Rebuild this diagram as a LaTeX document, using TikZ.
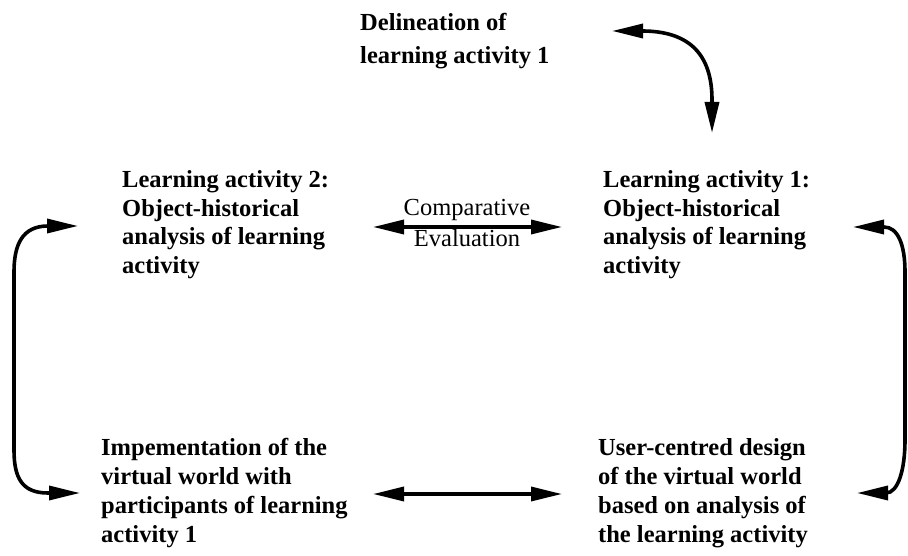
\documentclass[tikz,border=0pt]{standalone}
\usepackage{fontspec}
\setmainfont{Liberation Serif}
\usepackage{tikz}
\usetikzlibrary{arrows.meta, positioning}

\begin{document}
\begin{tikzpicture}[x=1pt,y=-1pt,
    lbl/.style={anchor=base west,inner sep=0pt,align=left,
        font=\fontsize{24.5}{29}\selectfont\bfseries},
    note/.style={anchor=base,inner sep=0pt,font=\fontsize{24.5}{30}\selectfont},
    link/.style={line width=3.6pt,{Triangle[length=31pt,width=14pt]}-{Triangle[length=31pt,width=14pt]}}]
                \useasboundingbox (0,0) rectangle (908,556);

                % Activity boxes (anchored at the baseline of their last line)
                \node[lbl] (del) at (360,64) {Delineation of\\[4pt]learning activity 1};
                \node[lbl] (la2) at (122,274) {Learning activity 2:\\Object-historical\\analysis of learning\\activity};
                \node[lbl] (la1) at (603,274) {Learning activity 1:\\Object-historical\\analysis of learning\\activity};
                \node[lbl] (imp) at (101,542) {Impementation of the\\virtual world with\\participants of learning\\activity 1};
                \node[lbl] (ucd) at (598,542) {User-centred design\\of the virtual world\\based on analysis of\\the learning activity};

                % Arrow ends
                \coordinate (delR) at (612,31);
                \coordinate (la1T) at (712,133);
                \coordinate (la2R) at (373,227);
                \coordinate (la1L) at (562,227);
                \coordinate (impR) at (373,494);
                \coordinate (ucdL) at (562,494);
                \coordinate (la2W) at (78,226);
                \coordinate (impW) at (80,493);
                \coordinate (la1E) at (853,227);
                \coordinate (ucdE) at (857,493);

                % Connectors
                \draw[link] (delR) -- (642,31) .. controls (690,31) and (712,55) .. (712,100) -- (la1T);
                \draw[link] (la2R) -- (la1L);
                \node[note] (cmp) at (467,216) {Comparative};
                \node[note] (evl) at (467,247) {Evaluation};
                \draw[link] (impR) -- (ucdL);
                \draw[link] (la2W) -- (48,226) .. controls (22,226) and (14,245) .. (14,272) -- (14,450) .. controls (14,478) and (22,493) .. (48,493) -- (impW);
                \draw[link] (la1E) -- (884,227) .. controls (898,227) and (905,245) .. (905,272) -- (905,440) .. controls (905,470) and (898,493) .. (886,493) -- (ucdE);
            \end{tikzpicture}
\end{document}
